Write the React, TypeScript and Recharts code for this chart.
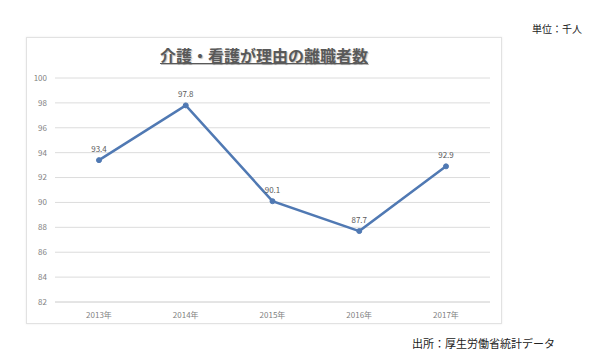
import React from 'react';
import { LineChart, Line, XAxis, YAxis, CartesianGrid, LabelList } from 'recharts';

const years = ['2013年', '2014年', '2015年', '2016年', '2017年'];
const leavers = [93.4, 97.8, 90.1, 87.7, 92.9];
const yTicks = [82, 84, 86, 88, 90, 92, 94, 96, 98, 100];

const FONT = '"Noto Sans CJK JP", "Noto Sans", sans-serif';
const LINE_COLOR = '#5079b3';

const data = years.map((year, i) => ({ year, value: leavers[i] }));

const App = () => {
  return (
    <div style={{ position: 'absolute', left: 0, top: 0, width: 598, height: 360, background: '#fff', fontFamily: FONT }}>
      {/* chart frame */}
      <div
        style={{
          position: 'absolute',
          left: 26,
          top: 37,
          width: 474,
          height: 285,
          border: '1px solid #e2e2e2',
          boxShadow: '0 0 2px rgba(0,0,0,0.08)',
        }}
      />
      <div
        style={{
          position: 'absolute',
          left: 26,
          top: 44,
          width: 476,
          textAlign: 'center',
          fontSize: 16,
          fontWeight: 'bold',
          color: '#595959',
          textDecoration: 'underline',
          textShadow: '1px 1px 1px rgba(0,0,0,0.25)',
          lineHeight: '22px',
        }}
      >
        介護・看護が理由の離職者数
      </div>
      <div style={{ position: 'absolute', left: 532, top: 21, fontSize: 10, color: '#222', lineHeight: '16px' }}>
        単位：千人
      </div>
      <div style={{ position: 'absolute', left: 412, top: 335, fontSize: 11, color: '#222', lineHeight: '16px' }}>
        出所：厚生労働省統計データ
      </div>
      <div style={{ position: 'absolute', left: 0, top: 0 }}>
        <LineChart width={598} height={360} data={data} margin={{ top: 78, right: 108, bottom: 38, left: 25 }}>
          <CartesianGrid vertical={false} stroke="#dcdcdc" strokeWidth={1} />
          <XAxis
            dataKey="year"
            axisLine={{ stroke: '#dcdcdc' }}
            tickLine={false}
            height={20}
            padding={{ left: 44, right: 44 }}
            tick={{ fontSize: 8, fill: '#7f7f7f', fontFamily: FONT }}
            tickMargin={4}
          />
          <YAxis
            domain={[82, 100]}
            ticks={yTicks}
            width={30}
            axisLine={false}
            tickLine={false}
            tick={{ fontSize: 8, fill: '#7f7f7f', fontFamily: FONT }}
            interval={0}
          />
          <Line
            type="linear"
            dataKey="value"
            stroke={LINE_COLOR}
            strokeWidth={2.5}
            dot={{ r: 2.5, fill: LINE_COLOR, stroke: LINE_COLOR, strokeWidth: 1 }}
            isAnimationActive={false}
          >
            <LabelList dataKey="value" position="top" offset={8} style={{ fontSize: 8, fill: '#595959', fontFamily: FONT }} />
          </Line>
        </LineChart>
      </div>
    </div>
  );
};

export default App;
